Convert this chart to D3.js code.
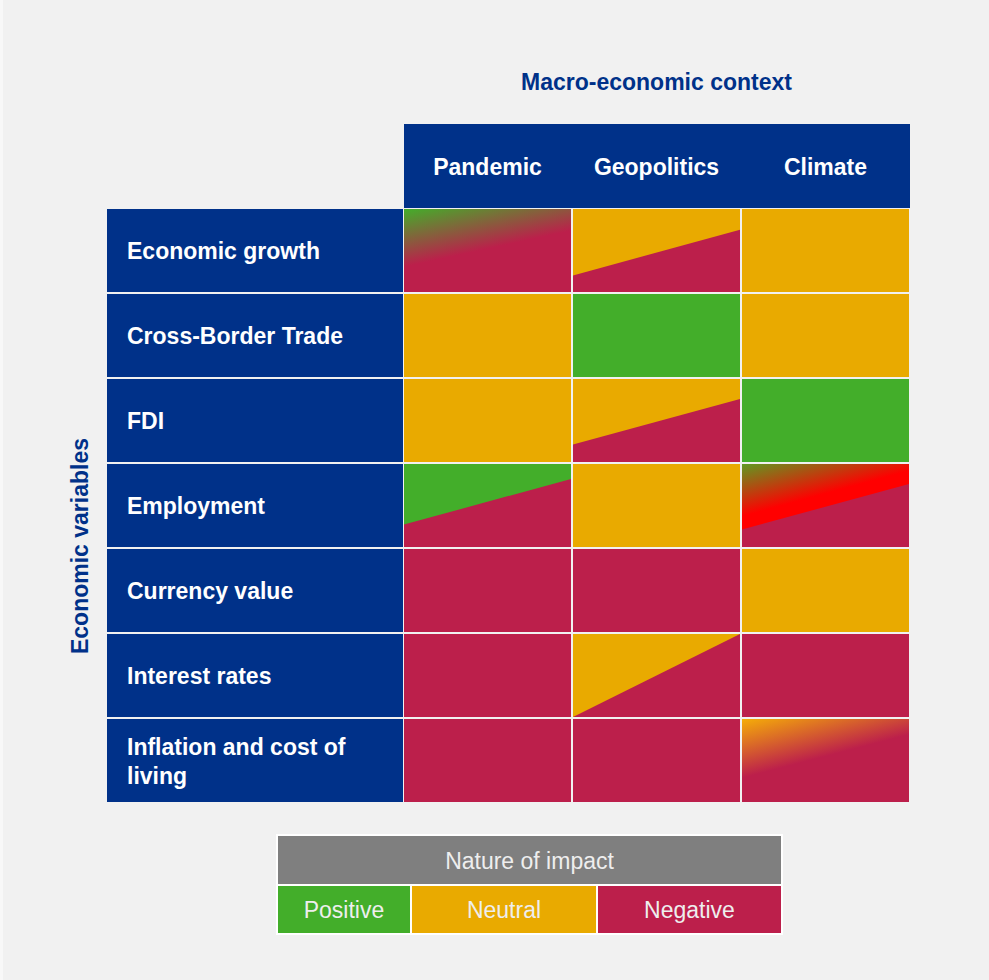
<!DOCTYPE html>
<html>
<head>
<meta charset="utf-8">
<script src="https://cdn.jsdelivr.net/npm/d3@7"></script>
<style>
  html, body { margin: 0; padding: 0; background: #f1f1f1; }
  svg { display: block; }
  text { font-family: "Liberation Sans", Arial, Helvetica, sans-serif; }
</style>
</head>
<body>
<svg id="chart" width="989" height="980"></svg>
<script>
// ---------- DATA ----------
const variables = [
  "Economic growth",
  "Cross-Border Trade",
  "FDI",
  "Employment",
  "Currency value",
  "Interest rates",
  "Inflation and cost of living"
];
const contexts = ["Pandemic", "Geopolitics", "Climate"];
const impacts = ["Positive", "Neutral", "Negative"];

// impact in upper-left part of each cell (rows = variables, cols = contexts)
const upperImpact = [
  ["Positive", "Neutral",  "Neutral"],
  ["Neutral",  "Positive", "Neutral"],
  ["Neutral",  "Neutral",  "Positive"],
  ["Positive", "Neutral",  "Positive"],
  ["Negative", "Negative", "Neutral"],
  ["Negative", "Neutral",  "Negative"],
  ["Negative", "Negative", "Neutral"]
];
// impact in lower-right part of each cell
const lowerImpact = [
  ["Negative", "Negative", "Neutral"],
  ["Neutral",  "Positive", "Neutral"],
  ["Neutral",  "Negative", "Positive"],
  ["Negative", "Neutral",  "Negative"],
  ["Negative", "Negative", "Neutral"],
  ["Negative", "Negative", "Negative"],
  ["Negative", "Negative", "Negative"]
];
// how the two parts meet: none | split | blend | blendsplit
const transition = [
  ["blend", "split", "none"],
  ["none",  "none",  "none"],
  ["none",  "split", "none"],
  ["split", "none",  "blendsplit"],
  ["none",  "none",  "none"],
  ["none",  "split", "none"],
  ["none",  "none",  "blend"]
];

const titleTop = "Macro-economic context";
const titleSide = "Economic variables";
const legendTitle = "Nature of impact";

// ---------- STYLE / LAYOUT ----------
const W = 989, H = 980;
const blue = "#003189";
const colour = d3.scaleOrdinal()
  .domain(impacts)
  .range(["#43ae2a", "#e9aa00", "#bc1f4b"]);
const vividRed = "#ff0000";
const blendStart = { Positive: "#43ae2a", Neutral: "#f5ad08" };
// split line position (fraction of cell height at left and right edges)
const splitGeom = {
  "0|1": [0.80, 0.25],
  "2|1": [0.79, 0.24],
  "3|0": [0.73, 0.18],
  "3|2": [0.79, 0.24],
  "5|1": [1.00, 0.00]
};
const fontSize = 23;

const svg = d3.select("#chart");
const defs = svg.append("defs");

svg.append("rect").attr("width", W).attr("height", H).attr("fill", "#f1f1f1");
svg.append("rect").attr("width", 3).attr("height", H).attr("fill", "#f8f8f8");

const x = d3.scaleBand().domain(contexts).range([403, 910]);
const y = d3.scaleBand().domain(variables).range([208, 803]);
const labelX0 = 107;

// header band
svg.append("rect")
  .attr("x", x.range()[0] + 1).attr("y", 124)
  .attr("width", x.range()[1] - x.range()[0] - 1).attr("height", 84)
  .attr("fill", blue);

svg.append("g").selectAll("text").data(contexts).join("text")
  .attr("x", d => x(d) + x.bandwidth() / 2)
  .attr("y", 166 + 9)
  .attr("text-anchor", "middle")
  .attr("fill", "#ffffff")
  .attr("font-weight", "bold")
  .attr("font-size", fontSize)
  .text(d => d);

// top title
svg.append("text")
  .attr("x", (x.range()[0] + x.range()[1]) / 2)
  .attr("y", 90)
  .attr("text-anchor", "middle")
  .attr("fill", blue)
  .attr("font-weight", "bold")
  .attr("font-size", fontSize)
  .text(titleTop);

// side title
svg.append("text")
  .attr("transform", `translate(88, 546) rotate(-90)`)
  .attr("text-anchor", "middle")
  .attr("fill", blue)
  .attr("font-weight", "bold")
  .attr("font-size", fontSize)
  .text(titleSide);

// row labels
const rowG = svg.append("g");
rowG.selectAll("rect").data(variables).join("rect")
  .attr("x", labelX0)
  .attr("y", d => y(d) + 1)
  .attr("width", x.range()[0] - labelX0)
  .attr("height", y.bandwidth() - 2)
  .attr("fill", blue);

function wrapLabel(s) {
  return s === "Inflation and cost of living" ? ["Inflation and cost of", "living"] : [s];
}
rowG.selectAll("text").data(variables).join("text")
  .attr("x", labelX0 + 20)
  .attr("fill", "#ffffff")
  .attr("font-weight", "bold")
  .attr("font-size", fontSize)
  .each(function (d) {
    const lines = wrapLabel(d);
    const cy = y(d) + y.bandwidth() / 2;
    const lh = 29;
    const t = d3.select(this);
    lines.forEach((ln, i) => {
      t.append("tspan")
        .attr("x", labelX0 + 20)
        .attr("y", cy + 8.5 - (lines.length - 1) * lh / 2 + i * lh)
        .text(ln);
    });
  });

// cells
const cells = [];
variables.forEach((v, r) => contexts.forEach((c, k) => {
  cells.push({ v, c, r, k, up: upperImpact[r][k], lo: lowerImpact[r][k], tr: transition[r][k] });
}));

const cellG = svg.append("g");
cells.forEach(d => {
  const x0 = x(d.c) + 1, y0 = y(d.v) + 1;
  const w = x.bandwidth() - 2, h = y.bandwidth() - 2;
  const g = cellG.append("g");
  g.append("rect").attr("x", x0).attr("y", y0).attr("width", w).attr("height", h)
    .attr("fill", colour(d.lo));
  const key = d.r + "|" + d.k;
  if (d.tr === "split" || d.tr === "blendsplit") {
    const [fl, fr] = splitGeom[key];
    const pts = [[x0, y0], [x0 + w, y0], [x0 + w, y0 + fr * h], [x0, y0 + fl * h]];
    let fill = colour(d.up);
    if (d.tr === "blendsplit") {
      const id = "g" + key.replace("|", "_");
      const th = Math.atan(((fl - fr) * h) / w);
      const L = fl * h * Math.cos(th);
      const lg = defs.append("linearGradient").attr("id", id)
        .attr("gradientUnits", "userSpaceOnUse")
        .attr("x1", x0).attr("y1", y0)
        .attr("x2", x0 + Math.sin(th) * L).attr("y2", y0 + Math.cos(th) * L);
      lg.append("stop").attr("offset", 0).attr("stop-color", "#5f9a22");
      lg.append("stop").attr("offset", 0.8).attr("stop-color", vividRed);
      lg.append("stop").attr("offset", 1).attr("stop-color", vividRed);
      fill = `url(#${id})`;
    }
    g.append("polygon").attr("points", pts.map(p => p.join(",")).join(" "))
      .attr("fill", fill);
  } else if (d.tr === "blend") {
    const id = "g" + key.replace("|", "_");
    const th = d.up === "Positive" ? Math.atan(0.2175) : Math.atan(0.26);
    const L = (d.up === "Positive" ? 58 : 59) * Math.cos(th);
    const lg = defs.append("linearGradient").attr("id", id)
      .attr("gradientUnits", "userSpaceOnUse")
      .attr("x1", x0).attr("y1", y0)
      .attr("x2", x0 + Math.sin(th) * L).attr("y2", y0 + Math.cos(th) * L);
    lg.append("stop").attr("offset", 0).attr("stop-color", blendStart[d.up]);
    lg.append("stop").attr("offset", 1).attr("stop-color", colour(d.lo));
    g.append("rect").attr("x", x0).attr("y", y0).attr("width", w).attr("height", h)
      .attr("fill", `url(#${id})`);
  }
});

// legend
const legX0 = 276, legX1 = 783;
const lx = d3.scaleLinear().domain([0, 1]).range([legX0 + 2, legX1 - 2]);
const legendFrac = [0, 0.2644, 0.6342, 1]; // boundaries Positive | Neutral | Negative
svg.append("rect").attr("x", legX0).attr("y", 834).attr("width", legX1 - legX0).attr("height", 101)
  .attr("fill", "#ffffff");
svg.append("rect").attr("x", lx(0)).attr("y", 836).attr("width", lx(1) - lx(0)).attr("height", 48)
  .attr("fill", "#7f7f7f");
svg.append("text").attr("x", (lx(0) + lx(1)) / 2).attr("y", 869)
  .attr("text-anchor", "middle").attr("fill", "#eeeeee").attr("font-size", fontSize)
  .text(legendTitle);
const legG = svg.append("g");
impacts.forEach((imp, i) => {
  const a = lx(legendFrac[i]) + (i > 0 ? 1 : 0);
  const b = lx(legendFrac[i + 1]) - (i < impacts.length - 1 ? 1 : 0);
  legG.append("rect").attr("x", a).attr("y", 886).attr("width", b - a).attr("height", 47)
    .attr("fill", colour(imp));
  legG.append("text").attr("x", (a + b) / 2).attr("y", 918)
    .attr("text-anchor", "middle").attr("fill", "#eeeeee").attr("font-size", fontSize)
    .text(imp);
});
</script>
</body>
</html>
